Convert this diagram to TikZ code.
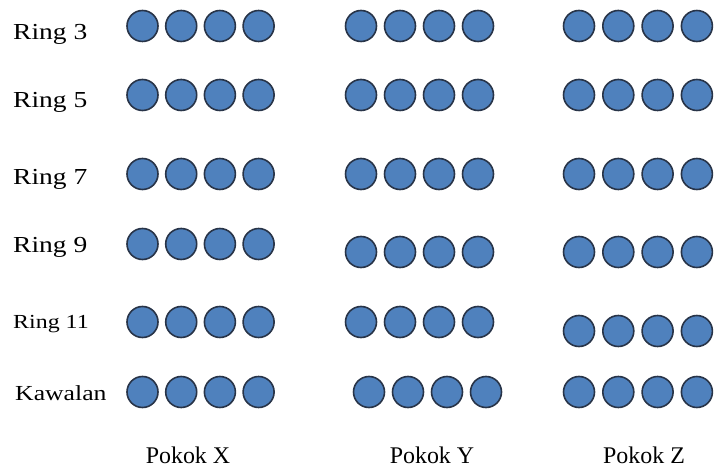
\documentclass[tikz,border=0pt]{standalone}
\usepackage{fontspec}
\setmainfont{Liberation Serif}
\newfontfamily\ringfont[FakeStretch=1.2]{Liberation Serif}
\usetikzlibrary{positioning}
\definecolor{BeadBlue}{RGB}{79,129,189}
\definecolor{BeadEdge}{RGB}{40,52,72}

\begin{document}
\begin{tikzpicture}[
    x=1bp, y=-1bp,
    bead/.style={circle, draw=BeadEdge, fill=BeadBlue, line width=1.6bp, minimum size=31bp, inner sep=0pt},
    ringlbl/.style={anchor=base west, inner sep=0pt, font=\ringfont\fontsize{23}{23}\selectfont},
    smalllbl/.style={ringlbl, font=\ringfont\fontsize{20}{20}\selectfont},
    pokok/.style={anchor=base, inner sep=0pt, font=\fontsize{24}{25}\selectfont}
]
    \useasboundingbox (0,0) rectangle (714,469);

    % Label baris
    \node[ringlbl] (r3) at (13,40) {Ring 3};
    \node[ringlbl] (r5) at (13,108) {Ring 5};
    \node[ringlbl] (r7) at (13,185) {Ring 7};
    \node[ringlbl] (r9) at (13,253) {Ring 9};
    \node[smalllbl] (r11) at (13,329) {Ring 11};
    \node[smalllbl, font=\ringfont\fontsize{21.5}{22}\selectfont] (rk) at (15,400) {Kawalan};

    % Manik: baris / y pokok X / y pokok Y / y pokok Z / geser Y
    \foreach \r/\ya/\yb/\yc/\sb in {3/26/26/26/0, 5/95/95/95/0, 7/174/174/174/0,
                                    9/244/252/252/0, 11/322/322/331/0, k/392/392/392/8} {
        \foreach \i in {0,...,3} {
            \node[bead] (x\r\i) at (142.5+38.7*\i, \ya) {};
            \node[bead] (y\r\i) at (361+\sb+39*\i, \yb) {};
            \node[bead] (z\r\i) at (579+39.3*\i, \yc) {};
        }
    }

    % Label pokok
    \node[pokok] (px) at (188,463) {Pokok X};
    \node[pokok] (py) at (432,463) {Pokok Y};
    \node[pokok] (pz) at (644,463) {Pokok Z};
\end{tikzpicture}
\end{document}
